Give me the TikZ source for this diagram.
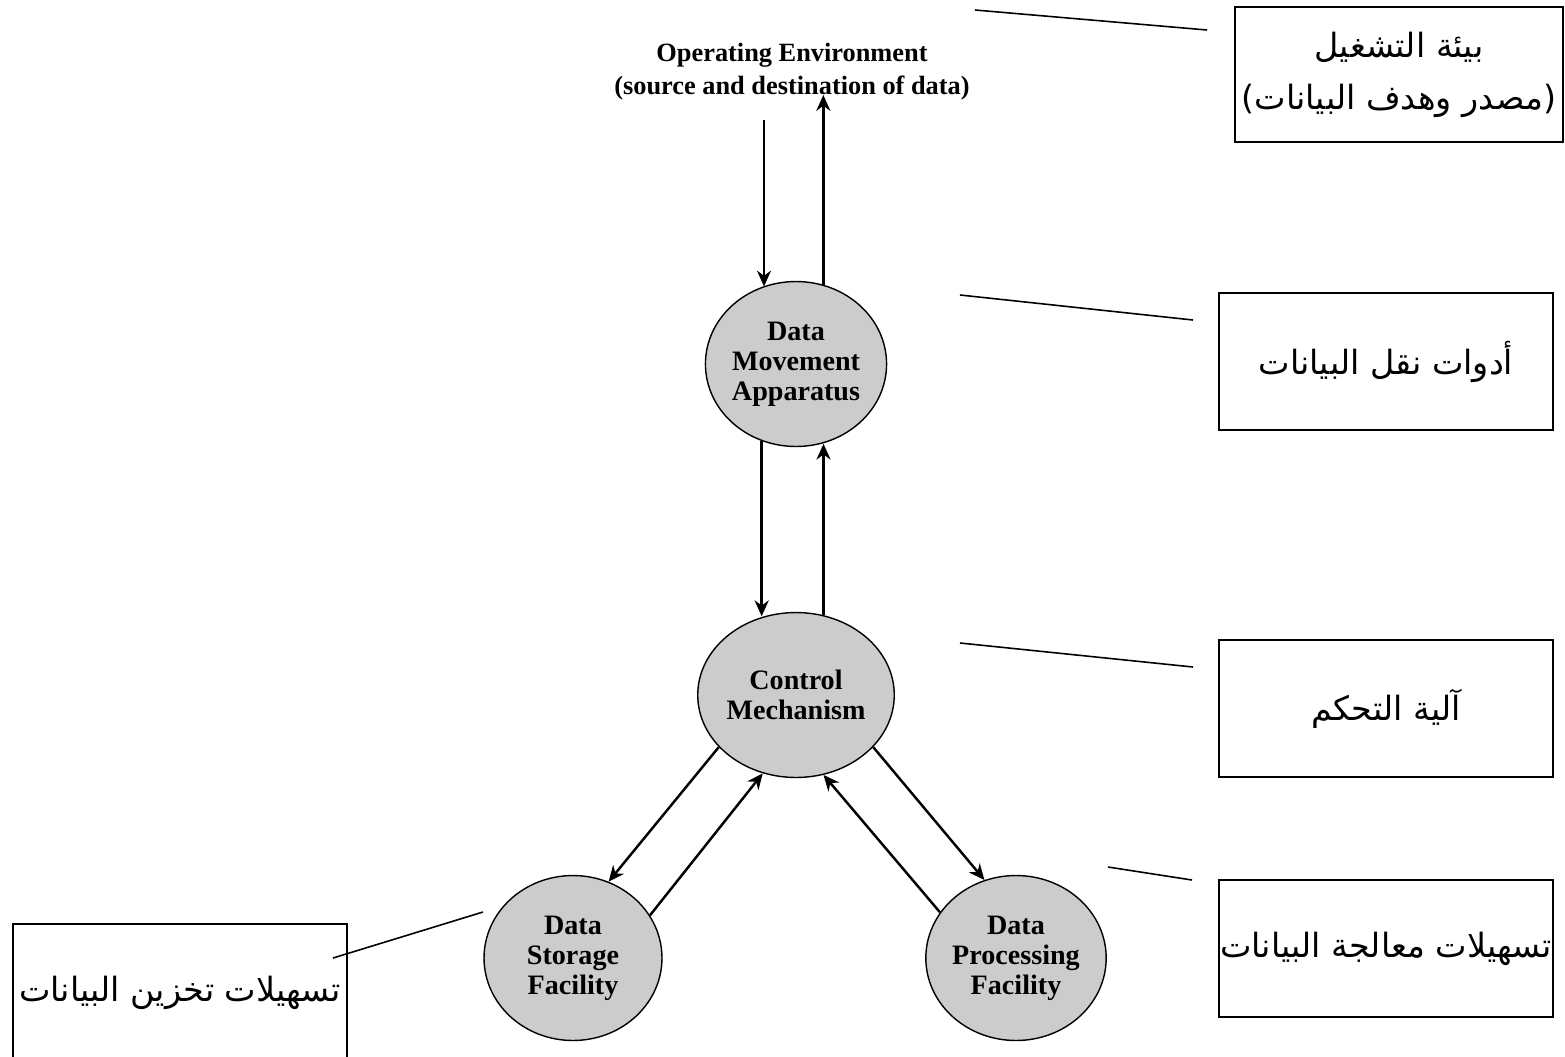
\documentclass[tikz,border=0pt]{standalone}
\usepackage{fontspec}
\setmainfont{Liberation Serif}
\newfontfamily\arabicfont[Script=Arabic]{DejaVu Sans}
\newfontfamily\bracketfont{DejaVu Sans}
\TeXXeTstate=1
\usetikzlibrary{shapes.geometric,arrows.meta}
\definecolor{unitgray}{HTML}{CCCCCC}
\tikzset{
  unit/.style={ellipse, draw, fill=unitgray, line width=0.8pt, minimum width=3.56cm, minimum height=3.3cm,
    inner sep=0pt, align=center, font=\bfseries\fontsize{16}{17}\selectfont},
  flow/.style={-{Stealth[length=9pt,width=8pt]}, line width=1.4pt},
  note/.style={draw, line width=0.8pt, minimum width=6.68cm, minimum height=2.74cm, inner xsep=0pt,
    align=center, font=\arabicfont\fontsize{19}{29.5}\selectfont},
  lead/.style={line width=0.9pt}
}
\begin{document}
\begin{tikzpicture}[x=0.02cm, y=-0.02cm]
\useasboundingbox (0,0) rectangle (1565,1056);
\node[font=\bfseries\fontsize{15}{18.7}\selectfont, align=center] (env) at (792,72)
  {Operating Environment\\(source and destination of data)};
\coordinate (envin) at (764,120);
\coordinate (envout) at (823,95);
\node[unit] (dma) at (796,364) {Data\\Movement\\Apparatus};
\node[unit] (cm) at (796,695) {Control\\Mechanism};
\node[unit] (dsf) at (573,958) {Data\\Storage\\Facility};
\node[unit] (dpf) at (1016,958) {Data\\Processing\\Facility};
\draw[flow] (envin) -- (envin |- dma.113.3);
\draw[flow] (dma.71.8) -- (dma.71.8 |- envout);
\draw[flow] (dma.246.7) -- (dma.246.7 |- cm.112.6);
\draw[flow] (cm.71) -- (cm.71 |- dma.288.2);
\draw[flow] (cm.214) -- (dsf.65.4);
\draw[flow] (dsf.29.7) -- (cm.247);
\draw[flow] (cm.326) -- (dpf.112.8);
\draw[flow] (dpf.149.4) -- (cm.289);
\node[note, minimum width=6.56cm, minimum height=2.7cm] (envnote) at (1399,74.5)
  {\beginR بيئة التشغيل\endR\\{\bracketfont(}\beginR مصدر وهدف البيانات\endR{\bracketfont)}};
\node[note] (dmanote) at (1386,361.5) {\beginR أدوات نقل البيانات\endR};
\node[note] (cmnote) at (1386,708.5) {\beginR آلية التحكم\endR};
\node[note] (dpfnote) at (1386,948.5) {\beginR تسهيلات معالجة البيانات\endR};
\node[note] (dsfnote) at (180,992.5) {\beginR تسهيلات تخزين البيانات\endR};
\coordinate (envtip) at (975,10);
\coordinate (envend) at (1207,30);
\coordinate (dmatip) at (960,295);
\coordinate (dmaend) at (1193,320);
\coordinate (cmtip) at (960,643);
\coordinate (cmend) at (1193,667);
\coordinate (dpftip) at (1108,867);
\coordinate (dpfend) at (1192,880);
\coordinate (dsftip) at (483,912);
\coordinate (dsfend) at (333,958);
\draw[lead] (envtip) -- (envend);
\draw[lead] (dmatip) -- (dmaend);
\draw[lead] (cmtip) -- (cmend);
\draw[lead] (dpftip) -- (dpfend);
\draw[lead] (dsftip) -- (dsfend);
\end{tikzpicture}
\end{document}
